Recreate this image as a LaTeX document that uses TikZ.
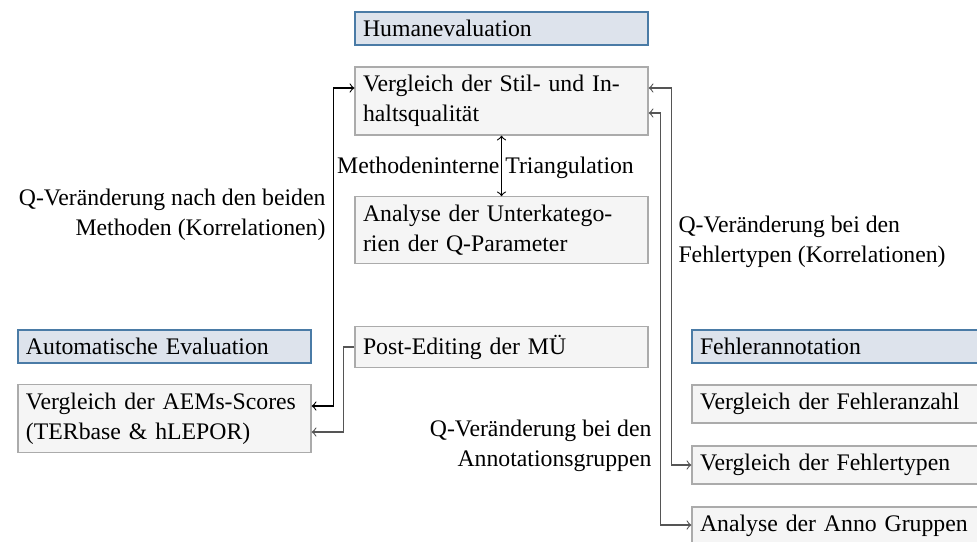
\documentclass[tikz,border=0pt]{standalone}
\usepackage{fontspec}
\setmainfont{Liberation Serif}
\definecolor{hdrfill}{HTML}{DDE3EC}
\definecolor{hdrdraw}{HTML}{4A7BA6}
\definecolor{boxfill}{HTML}{F5F5F5}
\definecolor{boxdraw}{HTML}{ABABAB}
\definecolor{lnk}{HTML}{555555}
\begin{document}
\begin{tikzpicture}[x=0.4pt,y=-0.4pt,
  txt/.style={font=\fontsize{9.5}{12}\selectfont},
  basebox/.style={txt, inner sep=3.2pt, text width=110.8pt, align=left},
  hdr/.style={basebox, fill=hdrfill, draw=hdrdraw, line width=0.5pt, minimum height=13.2pt},
  box/.style={basebox, fill=boxfill, draw=boxdraw, line width=0.5pt},
  lbl/.style={txt, inner sep=0pt},
  conn/.style={draw=black, line width=0.45pt},
  conng/.style={draw=lnk, line width=0.45pt}
]
\useasboundingbox (0,0) rectangle (977,541);
\clip (0,0) rectangle (977,541);

% Humanevaluation column
\node[hdr] (hum) at (501.5,28.5) {Humanevaluation};
\node[box, minimum height=27.2pt] (vgl) at (501.5,101) {\mbox{Vergleich der Stil- und In-}\\\mbox{haltsqualität}};
\node[box, minimum height=26.4pt] (ana) at (501.5,230) {\mbox{Analyse der Unterkatego-}\\\mbox{rien der Q-Parameter}};
\node[box, minimum height=16pt] (post) at (501.5,347) {\mbox{Post-Editing der MÜ}};

% Automatische Evaluation column
\node[hdr] (auto) at (164.5,346.5) {Automatische Evaluation};
\node[box, minimum height=26.8pt] (aems) at (164.5,418.5) {\mbox{Vergleich der AEMs-Scores}\\\mbox{(TERbase \& hLEPOR)}};

% Fehlerannotation column
\node[hdr] (fehl) at (838.5,346.5) {Fehlerannotation};
\node[box, minimum height=15.2pt] (fanz) at (838.5,404) {\mbox{Vergleich der Fehleranzahl}};
\node[box, minimum height=15.2pt] (ftyp) at (838.5,465) {\mbox{Vergleich der Fehlertypen}};
\node[box, minimum height=15.2pt] (fanno) at (838.5,526) {\mbox{Analyse der Anno Gruppen}};

% labels
\node[lbl, align=right, anchor=base east] (l1) at (326,235) {Q-Veränderung nach den beiden\\Methoden (Korrelationen)};
\node[lbl, align=left, anchor=base west] (l2) at (678,262) {Q-Veränderung bei den\\Fehlertypen (Korrelationen)};
\node[lbl, align=right, anchor=base east] (l3) at (652,466) {Q-Veränderung bei den\\Annotationsgruppen};

% connectors
\draw[conn, <->] (vgl.south) -- (ana.north)
  node[lbl, pos=0.5, anchor=center, xshift=-6.4pt, yshift=-0.6pt] (mt) {Methodeninterne Triangulation};
\draw[conn, <->] ([yshift=5pt]aems.east) -- ++(22,0) |- ([yshift=5.2pt]vgl.west);
\draw[conng, ->] (post.west) -- ++(-11,0) |- ([yshift=-5.4pt]aems.east);
\draw[conng, <->] ([yshift=5.2pt]vgl.east) -- ++(23,0) |- (ftyp.west);
\draw[conng, <->] ([yshift=-4.8pt]vgl.east) -- ++(12,0) |- ([yshift=0.4pt]fanno.west);
\end{tikzpicture}
\end{document}
